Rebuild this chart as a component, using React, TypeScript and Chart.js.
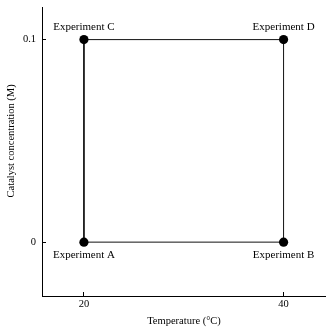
import React, { useEffect, useRef } from "react";
import { Chart, registerables } from "chart.js";

Chart.register(...registerables);

const pointNames = ["Experiment A", "Experiment B", "Experiment D", "Experiment C"];
const temperatures = [20, 40, 40, 20];
const catalyst = [0, 0, 0.1, 0.1];
const xTicks = [20, 40];
const yTicks = [0, 0.1];
const yTickLabels = ["0", "0.1"];
const xTitle = "Temperature (°C)";
const yTitle = "Catalyst concentration (M)";

const FONT = "'Liberation Serif', 'Times New Roman', serif";

const labelPlugin = {
  id: "pointNameLabels",
  afterDatasetsDraw(chart: any) {
    const { ctx, scales } = chart;
    const xs = scales.x;
    const ys = scales.y;
    ctx.save();
    ctx.font = `11px ${FONT}`;
    ctx.fillStyle = "#000";
    ctx.textAlign = "center";
    ctx.textBaseline = "middle";
    pointNames.forEach((name, i) => {
      const px = xs.getPixelForValue(temperatures[i]);
      const py = ys.getPixelForValue(catalyst[i]);
      const above = catalyst[i] >= Math.max(...catalyst);
      ctx.fillText(name, px, above ? py - 12 : py + 13);
    });
    // y-axis title, centred on the tick range
    const yc = (ys.getPixelForValue(yTicks[0]) + ys.getPixelForValue(yTicks[yTicks.length - 1])) / 2;
    ctx.translate(11, yc);
    ctx.rotate(-Math.PI / 2);
    ctx.font = `10.5px ${FONT}`;
    ctx.fillText(yTitle, 0, 0);
    ctx.restore();
  },
};

export default function App() {
  const ref = useRef<HTMLCanvasElement>(null);
  useEffect(() => {
    if (!ref.current) return;
    const pts = temperatures.map((t, i) => ({ x: t, y: catalyst[i] }));
    const data = [...pts, pts[0]];
    const chart = new Chart(ref.current, {
      type: "scatter",
      data: {
        datasets: [
          {
            data,
            showLine: true,
            borderColor: "#111",
            borderWidth: 1,
            backgroundColor: "#000",
            pointBackgroundColor: "#000",
            pointBorderColor: "#000",
            pointRadius: data.map((_, i) => (i < pts.length ? 4.6 : 0)),
            pointBorderWidth: 0,
          },
        ],
      },
      options: {
        responsive: false,
        animation: false,
        layout: { autoPadding: false, padding: { top: 7, right: 0, left: 0, bottom: 0 } },
        plugins: { legend: { display: false }, tooltip: { enabled: false } },
        scales: {
          x: {
            type: "linear",
            min: 15.8,
            max: 44.25,
            afterFit: (s: any) => {
              s.height = 32;
              s.paddingLeft = 0;
              s.paddingRight = 0;
              s.paddingTop = 0;
              s.paddingBottom = 0;
            },
            afterBuildTicks: (s: any) => {
              s.ticks = xTicks.map((v) => ({ value: v }));
            },
            ticks: {
              color: "#000",
              font: { family: FONT, size: 10.5 },
              padding: 6,
              maxRotation: 0,
              callback: (v: any) => String(v),
            },
            grid: {
              display: true,
              drawOnChartArea: false,
              drawTicks: true,
              tickLength: -4,
              color: "#000",
            },
            border: { display: true, color: "#000", width: 1 },
            title: {
              display: true,
              text: xTitle,
              color: "#000",
              font: { family: FONT, size: 10.5 },
              padding: { top: 0, bottom: 0 },
            },
          },
          y: {
            type: "linear",
            min: -0.0266,
            max: 0.1161,
            afterFit: (s: any) => {
              s.width = 42;
              s.paddingLeft = 0;
              s.paddingRight = 0;
              s.paddingTop = 0;
              s.paddingBottom = 0;
            },
            afterBuildTicks: (s: any) => {
              s.ticks = yTicks.map((v) => ({ value: v }));
            },
            ticks: {
              color: "#000",
              font: { family: FONT, size: 10.5 },
              padding: 10,
              callback: (v: any) => {
                const idx = yTicks.indexOf(v);
                return idx >= 0 ? yTickLabels[idx] : "";
              },
            },
            grid: {
              display: true,
              drawOnChartArea: false,
              drawTicks: true,
              tickLength: -4,
              color: "#000",
            },
            border: { display: true, color: "#000", width: 1 },
            title: { display: false },
          },
        },
      },
      plugins: [labelPlugin],
    } as any);
    return () => chart.destroy();
  }, []);
  return (
    <div style={{ position: "absolute", left: 0, top: 0, width: 326, height: 328, background: "#fff" }}>
      <canvas ref={ref} width={326} height={328} style={{ display: "block" }} />
    </div>
  );
}
